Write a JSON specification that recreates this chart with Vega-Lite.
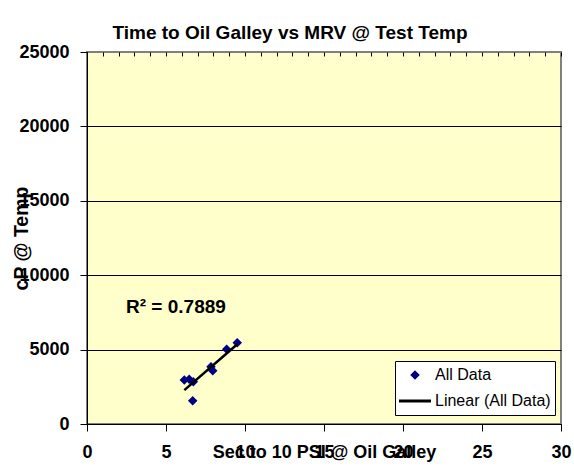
{
  "$schema": "https://vega.github.io/schema/vega-lite/v6.json",
  "width": 474,
  "height": 372,
  "autosize": {"type": "none"},
  "padding": {"left": 87, "top": 52, "right": 13, "bottom": 51},
  "background": "white",
  "title": {
    "text": "Time to Oil Galley vs MRV @ Test Temp",
    "font": "Liberation Sans",
    "fontSize": 19,
    "fontWeight": "bold",
    "color": "black",
    "anchor": "middle",
    "frame": "group",
    "dx": -34,
    "baseline": "alphabetic",
    "offset": -15
  },
  "data": {
    "values": [
      {"sec": 6.16, "cp": 2957, "series": "All Data"},
      {"sec": 6.47, "cp": 3004, "series": "All Data"},
      {"sec": 6.73, "cp": 2843, "series": "All Data"},
      {"sec": 7.85, "cp": 3851, "series": "All Data"},
      {"sec": 7.96, "cp": 3582, "series": "All Data"},
      {"sec": 8.84, "cp": 5020, "series": "All Data"},
      {"sec": 9.51, "cp": 5464, "series": "All Data"},
      {"sec": 6.69, "cp": 1566, "series": "All Data"}
    ]
  },
  "layer": [
    {
      "mark": {"type": "point", "filled": true, "opacity": 1},
      "encoding": {
        "x": {
          "field": "sec", "type": "quantitative",
          "scale": {"domain": [0, 30], "nice": false, "zero": false},
          "axis": {
            "title": "Sec to 10 PSI @ Oil Galley",
            "values": [0, 5, 10, 15, 20, 25, 30],
            "tickSize": 7,
            "labelPadding": 12,
            "labelBaseline": "top",
            "titleX": 237,
            "titleY": 19,
            "titleBaseline": "top",
            "titleAnchor": null,
            "titleAlign": "center",
            "grid": false
          }
        },
        "y": {
          "field": "cp", "type": "quantitative",
          "scale": {"domain": [0, 25000], "nice": false},
          "axis": {
            "title": "cP @ Temp",
            "values": [0, 5000, 10000, 15000, 20000, 25000],
            "format": "d",
            "tickSize": 7,
            "labelPadding": 11,
            "grid": true,
            "gridColor": {"condition": {"test": "datum.value >= 25000", "value": "#808080"}, "value": "black"},
            "gridWidth": 1,
            "titleFontSize": 19.5,
            "titleX": -65.5,
            "titleY": 186,
            "titleAngle": 270,
            "titleAnchor": null,
            "titleAlign": "center",
            "titleBaseline": "middle"
          }
        },
        "color": {
          "field": "series", "type": "nominal",
          "scale": {"domain": ["All Data", "Linear (All Data)"], "range": ["#000080", "#000000"]},
          "legend": {"title": null}
        },
        "shape": {
          "field": "series", "type": "nominal",
          "scale": {"domain": ["All Data", "Linear (All Data)"], "range": ["diamond", "M-1,-0.1H1V0.1H-1Z"]},
          "legend": {"title": null}
        },
        "size": {
          "field": "series", "type": "nominal",
          "scale": {"type": "ordinal", "domain": ["All Data", "Linear (All Data)"], "range": [90, 1024]},
          "legend": {"title": null}
        }
      }
    },
    {
      "transform": [{"regression": "cp", "on": "sec"}],
      "mark": {"type": "line", "strokeWidth": 2.5},
      "encoding": {
        "x": {
          "field": "sec", "type": "quantitative",
          "scale": {"domain": [0, 30], "nice": false, "zero": false},
          "axis": {
            "title": null,
            "labels": false,
            "domain": false,
            "grid": false,
            "values": [0,1,2,3,4,5,6,7,8,9,10,11,12,13,14,15,16,17,18,19,20,21,22,23,24,25,26,27,28,29,30],
            "tickSize": -4
          }
        },
        "y": {"field": "cp", "type": "quantitative", "axis": null},
        "color": {"datum": "Linear (All Data)"}
      }
    },
    {
      "data": {"values": [{"label": "R² = 0.7889"}]},
      "mark": {"type": "text", "align": "left", "baseline": "alphabetic", "font": "Liberation Sans", "fontSize": 19, "fontWeight": "bold", "color": "black"},
      "encoding": {
        "text": {"field": "label"},
        "x": {"datum": 2.47, "type": "quantitative", "axis": null},
        "y": {"datum": 7460, "type": "quantitative", "axis": null}
      }
    }
  ],
  "resolve": {"axis": {"x": "independent", "y": "independent"}},
  "config": {
    "view": {"fill": "#FFFFCC", "stroke": "#808080", "strokeWidth": 2},
    "axis": {
      "domainColor": "black",
      "domainWidth": 1,
      "tickColor": "black",
      "tickWidth": 1,
      "labelFont": "Liberation Sans",
      "labelFontSize": 18,
      "labelFontWeight": "bold",
      "labelColor": "black",
      "titleFont": "Liberation Sans",
      "titleFontSize": 18,
      "titleFontWeight": "bold",
      "titleColor": "black",
      "labelFlush": false,
      "labelOverlap": false
    },
    "legend": {
      "orient": "none",
      "legendX": 308,
      "legendY": 309,
      "fillColor": "white",
      "strokeColor": "black",
      "padding": 4,
      "labelFont": "Liberation Sans",
      "labelFontSize": 16,
      "labelColor": "black",
      "labelOffset": 4,
      "clipHeight": 20,
      "rowPadding": 6,
      "symbolStrokeWidth": 0,
      "symbolOpacity": 1
    }
  }
}
